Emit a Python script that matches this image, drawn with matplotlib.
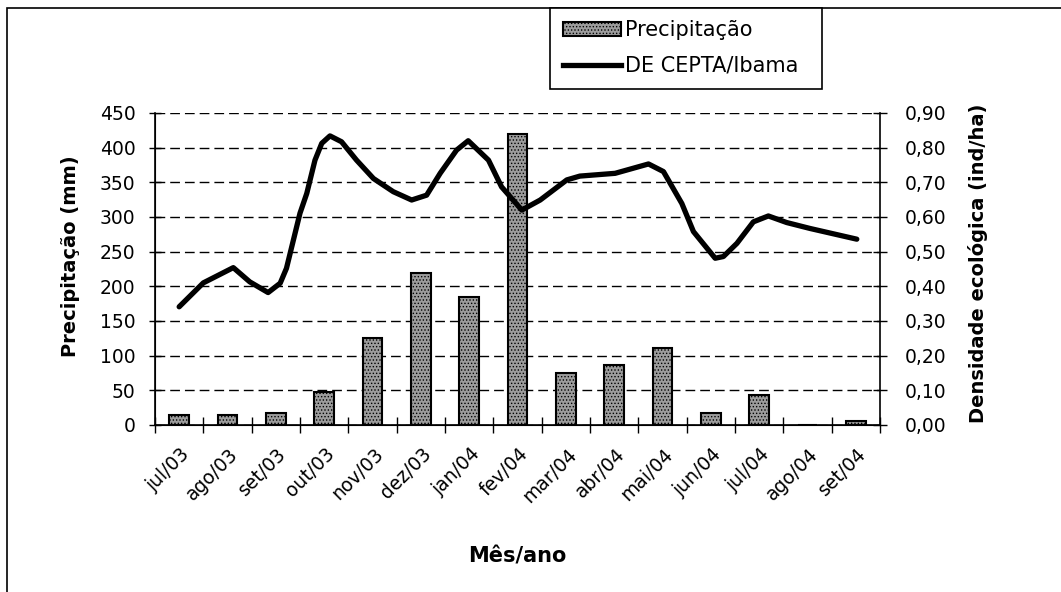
import matplotlib
matplotlib.use("Agg")
import matplotlib.pyplot as plt
from matplotlib.patches import Patch, Rectangle
from matplotlib.lines import Line2D
from matplotlib.ticker import FuncFormatter, MultipleLocator
from matplotlib.transforms import ScaledTranslation

plt.rcParams['font.family'] = ['DejaVu Sans']
plt.rcParams['hatch.linewidth'] = 0.6

# monthly rainfall (mm)
months = ['jul/03', 'ago/03', 'set/03', 'out/03', 'nov/03', 'dez/03', 'jan/04',
          'fev/04', 'mar/04', 'abr/04', 'mai/04', 'jun/04', 'jul/04', 'ago/04', 'set/04']
precip = [15, 15, 18, 48, 125, 219, 185, 420, 75, 86, 111, 18, 43, 0, 6]

# ecological density (x in month units, 0 = jul/03)
dens_x = [0.0, 0.50, 1.12, 1.46, 1.84, 2.09, 2.22, 2.50, 2.64, 2.81, 2.95, 3.12,
          3.36, 3.67, 4.02, 4.43, 4.81, 5.12, 5.40, 5.74, 5.98, 6.40, 6.67, 7.09,
          7.47, 8.02, 8.29, 9.02, 9.71, 10.02, 10.40, 10.64, 11.09, 11.26, 11.54,
          11.88, 12.19, 12.57, 13.05, 14.02]
dens_y = [0.341, 0.41, 0.454, 0.413, 0.382, 0.409, 0.452, 0.611, 0.668, 0.764,
          0.8125, 0.834, 0.817, 0.764, 0.711, 0.673, 0.649, 0.663, 0.726, 0.793,
          0.82, 0.764, 0.687, 0.62, 0.649, 0.707, 0.718, 0.726, 0.753, 0.731,
          0.639, 0.558, 0.481, 0.486, 0.524, 0.586, 0.603, 0.584, 0.567, 0.536]

W, H = 1061, 592
fig = plt.figure(figsize=(W / 100, H / 100), dpi=100)
fig.patch.set_facecolor('white')
ax = fig.add_axes([155 / W, 1 - 425 / H, 725 / W, 312 / H])
ax2 = ax.twinx()

x = list(range(len(months)))
bar_style = dict(facecolor='#9c9c9c', edgecolor='black', hatch='.....', linewidth=1.5)
ax.bar(x, precip, width=0.41, zorder=2, **bar_style)

ax.set_xlim(-0.5, len(months) - 0.5)
ax.set_ylim(0, 450)
ax.yaxis.set_major_locator(MultipleLocator(50))
ax.grid(axis='y', color='black', linestyle=(0, (7, 3.6)), linewidth=1.0)
ax.set_axisbelow(True)

ax.set_xticks(x)
ax.set_xticklabels(months, rotation=45, ha='right', rotation_mode='anchor', fontsize=13.5)
ax.set_xticks([i - 0.5 for i in range(len(months) + 1)], minor=True)
ax.tick_params(axis='x', which='major', length=0, pad=14)
ax.tick_params(axis='x', which='minor', direction='inout', length=12, width=1)
off = ScaledTranslation(0.01, 0, fig.dpi_scale_trans)
for lab in ax.get_xticklabels():
    lab.set_transform(lab.get_transform() + off)

ax.tick_params(axis='y', direction='inout', length=8, width=1, labelsize=13.5, pad=10)
for s in ['top', 'right']:
    ax.spines[s].set_visible(False)
for s in ['left', 'bottom']:
    ax.spines[s].set_linewidth(1.2)

ax.set_ylabel('Precipitação (mm)', fontsize=14, fontweight='bold', va='center')
ax.yaxis.set_label_coords(-0.116, 0.54)
ax.set_xlabel('Mês/ano', fontsize=15, fontweight='bold', va='center')
ax.xaxis.set_label_coords(0.5, -0.42)

ax2.plot(dens_x, dens_y, color='black', linewidth=3.8, solid_joinstyle='round',
         solid_capstyle='round', zorder=3)
ax2.set_ylim(0, 0.9)
ax2.yaxis.set_major_locator(MultipleLocator(0.1))
ax2.yaxis.set_major_formatter(FuncFormatter(lambda v, p: f'{v:.2f}'.replace('.', ',')))
ax2.tick_params(axis='y', direction='inout', length=10, width=1, labelsize=13.5, pad=13)
ax2.spines['top'].set_visible(False)
ax2.spines['right'].set_linewidth(1.2)
ax2.set_ylabel('Densidade ecológica (ind/ha)', fontsize=14, fontweight='bold',
               rotation=90, va='center')
ax2.yaxis.set_label_coords(1.135, 0.519)

# outer chart frame (only top and left visible in the crop)
fig.patches.append(Rectangle((7 / W, -0.2), 1.5, 1.2 - 7.5 / H, transform=fig.transFigure,
                             fill=False, edgecolor='black', linewidth=1.2, zorder=0))

handles = [Patch(**bar_style), Line2D([], [], color='black', linewidth=3.8)]
leg = fig.legend(handles, ['Precipitação', 'DE CEPTA/Ibama'], loc='upper left',
                 bbox_to_anchor=(550 / W, 1 - 7.5 / H, 272 / W, 0.0), mode='expand',
                 borderaxespad=0, fontsize=15, fancybox=False, framealpha=1,
                 edgecolor='black', handlelength=2.8, handletextpad=0.2,
                 borderpad=0.62, labelspacing=0.74)
leg.get_frame().set_linewidth(1.2)

fig.savefig('out.png', dpi=100)
